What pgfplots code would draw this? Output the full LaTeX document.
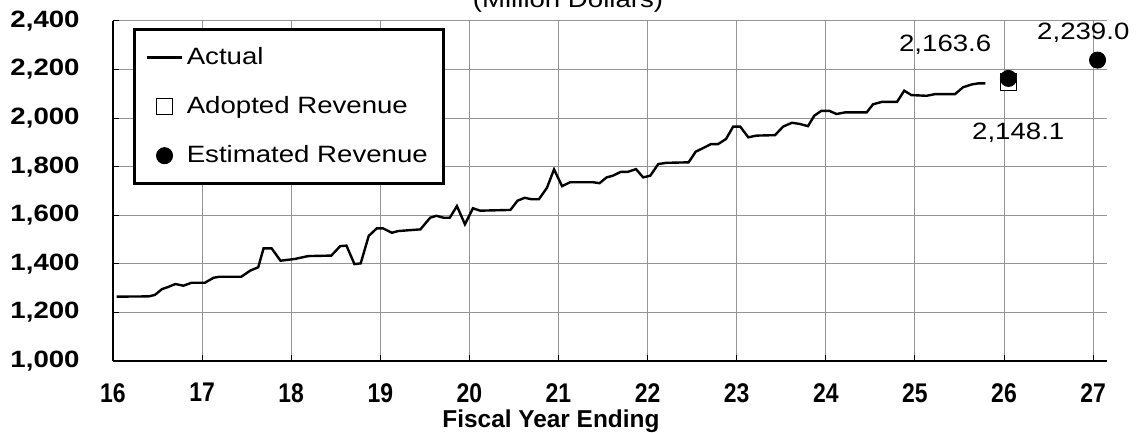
\documentclass[border=0pt]{standalone}
\usepackage{fontspec}
\setmainfont{Liberation Sans}[FakeStretch=1.17]
\newfontfamily\xfont{Liberation Sans}
\newfontfamily\xtfont{Liberation Sans}[FakeStretch=0.85]
\usepackage{pgfplots}
\pgfplotsset{compat=1.18}
\begin{document}
\begin{tikzpicture}
\begin{axis}[
  name=ax,
  scale only axis, width=497pt, height=170pt,
  xmin=16, xmax=27.156, ymin=1000, ymax=2400,
  xtick={16,...,27}, ytick={1000,1200,...,2400},
  grid=major, grid style={line width=0.5pt, black!42},
  axis x line*=bottom, axis y line*=left,
  axis line style={-, line width=0.8pt, black},
  tick align=inside, major tick length=3pt,
  tick style={black, line width=0.5pt},
  /pgf/number format/assume math mode=true,
  /pgf/number format/1000 sep={,},
  xticklabel style={font=\xtfont\fontsize{13.5}{15}\selectfont\bfseries, anchor=north, inner sep=0pt, yshift=-11pt},
  yticklabel style={font=\fontsize{11.8}{13}\selectfont\bfseries, anchor=east, inner sep=0pt, xshift=-16.5pt},
  xlabel={Fiscal Year Ending},
  xlabel style={font=\xfont\fontsize{12.2}{14}\selectfont\bfseries, at={(rel axis cs:0.4406,0)}, anchor=base, yshift=-33.5pt, inner sep=0pt},
  clip=false,
  legend cell align=left,
  legend style={at={(0.0201,0.979)}, anchor=north west, draw=black, line width=1.3pt, fill=white,
    font=\fontsize{11.8}{13}\selectfont, inner xsep=6pt, inner ysep=7pt, row sep=10.5pt},
]
\addplot[black, line width=1.2pt, mark=none] coordinates {
(16.04,1265) (16.40,1266) (16.47,1272) (16.55,1296) (16.62,1305) (16.70,1317)
(16.79,1310) (16.88,1322) (17.03,1322) (17.13,1343) (17.20,1347) (17.44,1347)
(17.54,1372) (17.63,1386) (17.69,1464) (17.78,1464) (17.88,1413) (18.04,1420)
(18.19,1432) (18.45,1434) (18.55,1473) (18.62,1475) (18.71,1399) (18.78,1402)
(18.87,1515) (18.96,1546) (19.03,1546) (19.13,1528) (19.20,1535) (19.45,1542)
(19.56,1590) (19.63,1598) (19.71,1590) (19.78,1590) (19.86,1638) (19.95,1563)
(20.04,1629) (20.12,1619) (20.46,1622) (20.54,1660) (20.62,1672) (20.70,1666)
(20.78,1666) (20.87,1713) (20.95,1789) (21.04,1720) (21.13,1736) (21.39,1736)
(21.46,1732) (21.54,1756) (21.61,1763) (21.70,1779) (21.78,1779) (21.87,1790)
(21.95,1756) (22.03,1763) (22.12,1811) (22.21,1816) (22.46,1818) (22.54,1862)
(22.63,1878) (22.71,1893) (22.79,1893) (22.88,1914) (22.96,1965) (23.04,1965)
(23.13,1921) (23.22,1928) (23.43,1930) (23.52,1965) (23.62,1981) (23.71,1976)
(23.80,1967) (23.87,2010) (23.95,2030) (24.04,2030) (24.12,2017) (24.22,2024)
(24.46,2024) (24.53,2057) (24.63,2067) (24.80,2067) (24.88,2113) (24.96,2095)
(25.13,2092) (25.23,2099) (25.45,2099) (25.54,2127) (25.64,2139) (25.71,2143)
(25.79,2143)
};
\addlegendentry{Actual}
\addplot[only marks, mark=square*, mark size=4.2pt, mark options={fill=white, draw=black, line width=0.5pt}] coordinates {(26.05,2148.1)};
\addlegendentry{Adopted Revenue}
\addplot[only marks, mark=*, mark size=4pt, mark options={fill=black, draw=black, line width=0.5pt}] coordinates {(26.05,2163.6) (27.05,2239.0)};
\addlegendentry{Estimated Revenue}
\node[font=\fontsize{11.8}{13}\selectfont] at (axis cs:25.34,2301) {2,163.6};
\node[font=\fontsize{11.8}{13}\selectfont] at (axis cs:26.16,1939) {2,148.1};
\node[font=\fontsize{11.8}{13}\selectfont] at (axis cs:26.89,2350) {2,239.0};
\node[font=\fontsize{11.8}{13}\selectfont, anchor=base] at (axis cs:21.107,2457) {(Million Dollars)};
\end{axis}
\pgfresetboundingbox
\useasboundingbox ([shift={(-56.5pt,-36pt)}]ax.south west) rectangle ([shift={(14.5pt,10.5pt)}]ax.north east);
\end{tikzpicture}
\end{document}
